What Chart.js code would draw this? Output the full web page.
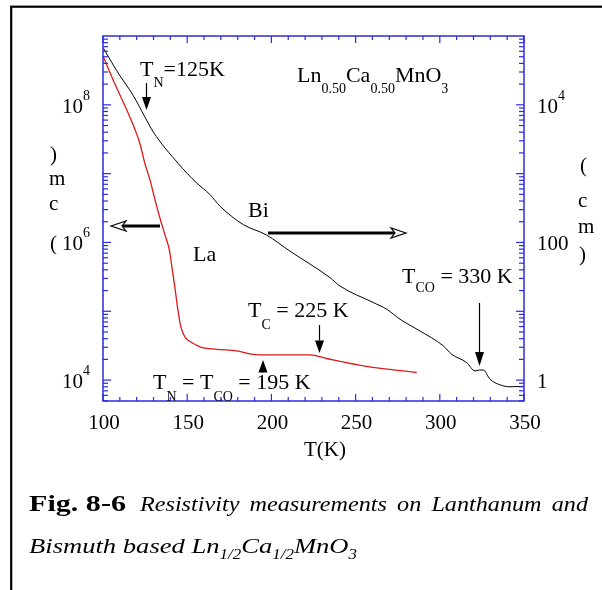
<!DOCTYPE html>
<html>
<head>
<meta charset="utf-8">
<script src="https://cdn.jsdelivr.net/npm/chart.js@4.4.0/dist/chart.umd.min.js"></script>
<style>
  html, body { margin: 0; padding: 0; background: #fff; }
  #wrap { width: 602px; height: 590px; }
</style>
</head>
<body>
<div id="wrap"><canvas id="myChart" width="602" height="590"></canvas></div>
<script>
// La curve, left axis (Ohm cm)
const tempLa = [100.2, 107.1, 116.0, 122.0, 124.9, 127.9, 130.9, 133.8, 136.8, 139.4, 141.0, 142.8, 144.5, 146.0, 147.5, 149.3, 151.7, 157.6, 167.5, 179.4, 187.3, 193.2, 207.0, 222.9, 232.8, 256.6, 286.3];
const rhoLa  = [5.0e8, 2.0e8, 6.6e7, 2.7e7, 1.4e7, 8.1e6, 4.15e6, 2.27e6, 1.29e6, 7.8e5, 4.26e5, 2.11e5, 1.04e5, 6.3e4, 4.83e4, 4.02e4, 3.63e4, 3.05e4, 2.8e4, 2.66e4, 2.4e4, 2.32e4, 2.33e4, 2.33e4, 2.06e4, 1.58e4, 1.29e4];

// Bi curve, right axis (Ohm cm)
const tempBi = [100.2, 108.1, 118.0, 124.9, 129.9, 144.7, 155.6, 163.5, 169.5, 183.3, 197.2, 211.0, 234.8, 240.7, 260.5, 268.5, 276.4, 288.2, 302.1, 307.0, 315.9, 320.9, 323.5, 325.8, 329.8, 335.7, 341.7, 349.6];
const rhoBi  = [67000, 31400, 13600, 6640, 4020, 1400, 733, 497, 336, 182, 128, 74.8, 30.8, 23.3, 13.4, 10.7, 7.66, 5.18, 3.14, 2.38, 1.80, 1.36, 1.40, 1.40, 1.03, 0.855, 0.80, 0.81];

// tick labels
const xTicks = [100, 150, 200, 250, 300, 350];
const leftTickExps = [4, 6, 8];
const rightTicks = [1, 100, 10000];
const rightTickLabels = ['1', '100', '10^4'];

const FONT = '"Liberation Serif", "Times New Roman", serif';
const BLUE = '#2b2be0';

function setFont(ctx, size, style) {
  ctx.font = (style ? style + ' ' : '') + size + 'px ' + FONT;
}

// draw a run of text pieces: [text, size, dy, style]
function runs(ctx, parts, x, y) {
  parts.forEach(([s, size, dy, style]) => {
    setFont(ctx, size, style);
    ctx.fillText(s, x, y + (dy || 0));
    x += ctx.measureText(s).width;
  });
  return x;
}

function runsWidth(ctx, parts) {
  let w = 0;
  parts.forEach(([s, size, dy, style]) => {
    setFont(ctx, size, style);
    w += ctx.measureText(s).width;
  });
  return w;
}

function line(ctx, x1, y1, x2, y2) {
  ctx.beginPath();
  ctx.moveTo(x1, y1);
  ctx.lineTo(x2, y2);
  ctx.stroke();
}

// thin arrow pointing down (or up if tip above start)
function solidArrow(ctx, x, y0, tip, headLen, hw) {
  const dir = tip > y0 ? 1 : -1;
  ctx.lineWidth = 1.2;
  if (Math.abs(tip - y0) > headLen) line(ctx, x, y0, x, tip - dir * headLen);
  ctx.beginPath();
  ctx.moveTo(x, tip);
  ctx.lineTo(x - hw, tip - dir * headLen);
  ctx.lineTo(x + hw, tip - dir * headLen);
  ctx.closePath();
  ctx.fill();
}

// thick horizontal arrow with open head
function openArrow(ctx, x0, tip, y) {
  const dir = tip > x0 ? 1 : -1;
  ctx.lineWidth = 3;
  line(ctx, x0, y, tip - dir * 10, y);
  ctx.lineWidth = 1.2;
  ctx.beginPath();
  ctx.moveTo(tip, y);
  ctx.lineTo(tip - dir * 15, y - 5);
  ctx.lineTo(tip - dir * 11, y);
  ctx.lineTo(tip - dir * 15, y + 5);
  ctx.closePath();
  ctx.fillStyle = '#fff';
  ctx.fill();
  ctx.stroke();
  ctx.fillStyle = '#000';
}

const decorations = {
  id: 'decorations',
  afterDraw(chart) {
    const { ctx, chartArea: a, scales } = chart;
    const sx = scales.x, yL = scales.yL, yR = scales.yR;
    ctx.save();

    // page frame
    ctx.strokeStyle = '#000';
    ctx.lineWidth = 2.2;
    ctx.strokeRect(11.2, 6.7, 700, 700);

    // plot box and inward ticks
    ctx.strokeStyle = BLUE;
    ctx.lineWidth = 1.5;
    ctx.strokeRect(a.left, a.top, a.right - a.left, a.bottom - a.top);
    ctx.lineWidth = 1.2;
    for (let t = 100; t <= 350; t += 10) {
      const px = sx.getPixelForValue(t);
      const len = t % 50 === 0 ? 7 : 4;
      line(ctx, px, a.bottom, px, a.bottom - len);
      line(ctx, px, a.top, px, a.top + len);
    }
    for (let e = 3; e <= 8; e++) {
      for (let k = 1; k <= 9; k++) {
        const v = k * Math.pow(10, e);
        if (v < yL.min || v > yL.max) continue;
        const py = yL.getPixelForValue(v);
        line(ctx, a.left, py, a.left + (k === 1 ? 8 : 5), py);
      }
    }
    for (let e = -1; e <= 4; e++) {
      for (let k = 1; k <= 9; k++) {
        const v = k * Math.pow(10, e);
        if (v < yR.min || v > yR.max) continue;
        const py = yR.getPixelForValue(v);
        line(ctx, a.right, py, a.right - (k === 1 ? 8 : 5), py);
      }
    }

    // tick labels
    ctx.fillStyle = '#000';
    ctx.strokeStyle = '#000';
    ctx.textBaseline = 'alphabetic';
    ctx.textAlign = 'center';
    setFont(ctx, 21);
    xTicks.forEach(t => ctx.fillText(String(t), sx.getPixelForValue(t) + 1, 429));
    ctx.fillText('T(K)', 325, 456);
    ctx.textAlign = 'left';
    leftTickExps.forEach(e => {
      const py = yL.getPixelForValue(Math.pow(10, e));
      runs(ctx, [['10', 21, 0], [String(e), 14, -13]], 62, py + 8);
    });
    rightTicks.forEach((v, i) => {
      const py = yR.getPixelForValue(v);
      const parts = rightTickLabels[i].split('^');
      const pieces = [[parts[0], 21, 0]];
      if (parts[1]) pieces.push([parts[1], 14, -13]);
      runs(ctx, pieces, 537, py + 8);
    });

    // broken axis titles, stacked characters
    setFont(ctx, 21);
    [[')', 50, 161], ['m', 49, 185], ['c', 49, 210], ['(', 50, 250]].forEach(([c, x, y]) => ctx.fillText(c, x, y));
    [['(', 580, 172], ['c', 578, 207], ['m', 578, 233], [')', 579, 261]].forEach(([c, x, y]) => ctx.fillText(c, x, y));

    // annotations
    runs(ctx, [['T', 22, 0], ['N', 14, 11], ['=125K', 22, 0]], 140, 76);
    solidArrow(ctx, 146.5, 83, 110, 13, 4.5);
    runs(ctx, [['Ln', 22, 0], ['0.50', 14, 11], ['Ca', 22, 0], ['0.50', 14, 11], ['MnO', 22, 0], ['3', 14, 11]], 297, 82);
    runs(ctx, [['Bi', 22, 0]], 248, 217);
    runs(ctx, [['La', 22, 0]], 193, 261);
    openArrow(ctx, 160, 111, 226);
    openArrow(ctx, 268, 406, 233);
    runs(ctx, [['T', 22, 0], ['C', 14, 12], [' = 225 K', 22, 0]], 248, 317);
    solidArrow(ctx, 319.5, 325, 353, 12.5, 4.5);
    runs(ctx, [['T', 22, 0], ['CO', 14, 9], [' = 330 K', 22, 0]], 402, 283);
    solidArrow(ctx, 479.5, 303, 366, 14, 4.5);
    runs(ctx, [['T', 22, 0], ['N', 14, 12], [' = T', 22, 0], ['CO', 14, 12], [' = 195 K', 22, 0]], 153, 389);
    solidArrow(ctx, 263, 373, 360, 12.5, 4.5);

    // caption, second line first to get the stretch
    const line2 = [['Bismuth based Ln', 22, 0, 'italic'], ['1/2', 14, 6, 'italic'], ['Ca', 22, 0, 'italic'],
                   ['1/2', 14, 6, 'italic'], ['MnO', 22, 0, 'italic'], ['3', 14, 6, 'italic']];
    const stretch = (357 - 29) / runsWidth(ctx, line2);
    ctx.save();
    ctx.translate(29, 553);
    ctx.scale(stretch, 1);
    runs(ctx, line2, 0, 0);
    ctx.restore();

    const fig = [['Fig. 8-6', 23, 0, 'bold']];
    const figStretch = (126 - 29) / runsWidth(ctx, fig);
    ctx.save();
    ctx.translate(29, 511);
    ctx.scale(figStretch, 1);
    runs(ctx, fig, 0, 0);
    ctx.restore();

    const words = ['Resistivity', 'measurements', 'on', 'Lanthanum', 'and'];
    setFont(ctx, 20, 'italic');
    const ws = words.map(w => ctx.measureText(w).width * stretch);
    const gap = (588 - 140 - ws.reduce((s, w) => s + w, 0)) / (words.length - 1);
    let wx = 140;
    words.forEach((w, i) => {
      ctx.save();
      ctx.translate(wx, 511);
      ctx.scale(stretch, 1);
      ctx.fillText(w, 0, 0);
      ctx.restore();
      wx += ws[i] + gap;
    });

    ctx.restore();
  }
};

const config = {
  type: 'line',
  data: {
    datasets: [
      {
        label: 'Bi',
        data: tempBi.map((t, i) => ({ x: t, y: rhoBi[i] })),
        yAxisID: 'yR',
        borderColor: '#000',
        borderWidth: 1,
        pointRadius: 0,
        cubicInterpolationMode: 'monotone'
      },
      {
        label: 'La',
        data: tempLa.map((t, i) => ({ x: t, y: rhoLa[i] })),
        yAxisID: 'yL',
        borderColor: '#dd1a1a',
        borderWidth: 1.3,
        pointRadius: 0,
        cubicInterpolationMode: 'monotone'
      }
    ]
  },
  options: {
    responsive: false,
    animation: false,
    devicePixelRatio: 1,
    layout: { padding: { left: 103, top: 36, right: 78, bottom: 189 } },
    plugins: { legend: { display: false }, tooltip: { enabled: false } },
    scales: {
      x: { type: 'linear', min: 100, max: 350, display: false },
      yL: { type: 'logarithmic', position: 'left', min: 4970, max: 1e9, display: false },
      yR: { type: 'logarithmic', position: 'right', min: 0.497, max: 1e5, display: false }
    }
  },
  plugins: [decorations]
};

new Chart(document.getElementById('myChart'), config);
</script>
</body>
</html>
